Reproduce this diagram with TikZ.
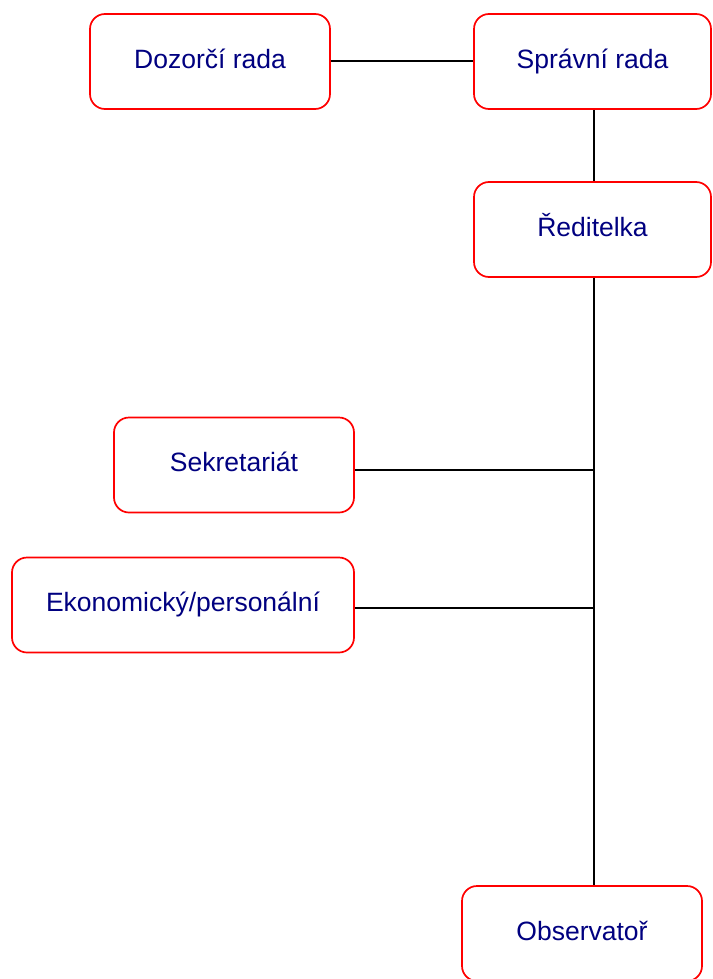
\documentclass[tikz,border=0pt]{standalone}
\usepackage{fontspec}
\setmainfont{Liberation Sans}
\definecolor{txtblue}{RGB}{0,0,128}
\definecolor{boxred}{RGB}{255,0,0}
\begin{document}
\begin{tikzpicture}[x=1pt,y=-1pt,
  orgbox/.style={draw=boxred, line width=1.7pt, rounded corners=15pt, fill=white,
    minimum height=95pt, inner sep=0pt, text=txtblue, text height=19pt, text depth=5.3pt,
    font=\fontsize{26.5}{30}\selectfont},
  link/.style={draw=black, line width=2pt}]
\useasboundingbox (0,0) rectangle (712,979);
\node[orgbox, minimum width=240pt] (doz) at (210,61.5) {Dozorčí rada};
\node[orgbox, minimum width=237pt] (spr) at (592.5,61.5) {Správní rada};
\node[orgbox, minimum width=237pt] (red) at (592.5,229.5) {Ředitelka};
\node[orgbox, minimum width=240pt] (sek) at (234,465) {Sekretariát};
\node[orgbox, minimum width=342pt] (eko) at (183,605) {Ekonomický/personální};
\node[orgbox, minimum width=240pt] (obs) at (582,933.5) {Observatoř};
\draw[link] (doz.east) -- (spr.west);
\draw[link] ([xshift=1.5pt]spr.south) -- ([xshift=1.5pt]red.north);
\draw[link] ([xshift=1.5pt]red.south) -- ([xshift=1.5pt]red.south |- obs.north);
\draw[link] ([yshift=-5pt]sek.east) -- ([yshift=-5pt,xshift=1.5pt]sek.east -| red.south);
\draw[link] ([yshift=-3pt]eko.east) -- ([yshift=-3pt,xshift=1.5pt]eko.east -| red.south);
\end{tikzpicture}
\end{document}
